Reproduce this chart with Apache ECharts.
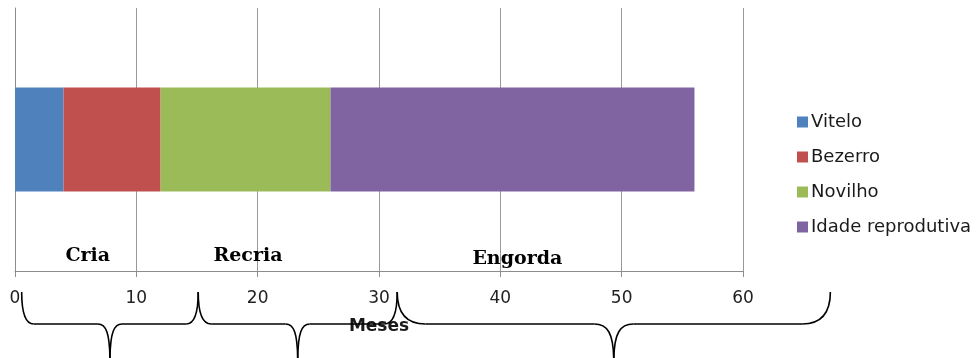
<!DOCTYPE html>
<html>
<head>
<meta charset="utf-8">
<script src="https://cdn.jsdelivr.net/npm/echarts@6/dist/echarts.min.js"></script>
<style>
  html, body { margin: 0; padding: 0; background: #ffffff; }
  #chart { width: 979px; height: 358px; }
</style>
</head>
<body>
<div id="chart"></div>
<script>
// Life stages of cattle, in months (stacked horizontal bar)
const categories = [''];
const seriesNames = ['Vitelo', 'Bezerro', 'Novilho', 'Idade reprodutiva'];
const vitelo = [4];
const bezerro = [8];
const novilho = [14];
const idadeReprodutiva = [30];
const xTicks = [0, 10, 20, 30, 40, 50, 60];

// Phase annotations under the bar
const phases = ['Cria', 'Recria', 'Engorda'];
const phaseLabelMonth = [6, 19.2, 41.4];
const phaseSpans = [[0.55, 15.1], [15.1, 31.5], [31.5, 67.2]];

const colors = ['#4F81BD', '#C0504D', '#9BBB59', '#8064A2'];
const seriesValues = [vitelo, bezerro, novilho, idadeReprodutiva];

const chart = echarts.init(document.getElementById('chart'), null, { renderer: 'canvas' });

const option = {
  animation: false,
  color: colors,
  grid: { left: 15, right: 236, top: 8, bottom: 87, containLabel: false },
  legend: {
    orient: 'vertical',
    left: 792,
    top: 108,
    itemWidth: 11,
    itemHeight: 11,
    itemGap: 17,
    icon: 'rect',
    textStyle: { fontFamily: 'DejaVu Sans', fontSize: 18, color: '#1a1a1a', lineHeight: 18, padding: [0, 0, 0, -2] },
    data: seriesNames
  },
  xAxis: {
    type: 'value',
    min: xTicks[0],
    max: xTicks[xTicks.length - 1],
    interval: 10,
    name: 'Meses',
    nameLocation: 'middle',
    nameGap: 47,
    nameTextStyle: { fontFamily: 'DejaVu Sans', fontWeight: 'bold', fontSize: 17, color: '#1a1a1a' },
    axisLine: { show: true, lineStyle: { color: '#8c8c8c', width: 1 } },
    axisTick: { show: true, length: 6, lineStyle: { color: '#8c8c8c' } },
    axisLabel: { margin: 19, fontFamily: 'DejaVu Sans', fontSize: 17, color: '#222' },
    splitLine: { show: true, lineStyle: { color: '#999999', width: 1 } }
  },
  yAxis: {
    type: 'category',
    data: categories,
    axisLine: { show: true, lineStyle: { color: '#8c8c8c' } },
    axisTick: { show: false },
    axisLabel: { show: false },
    splitLine: { show: false }
  },
  series: seriesNames.map((name, i) => ({
    name: name,
    type: 'bar',
    stack: 'idade',
    barWidth: 104,
    data: seriesValues[i],
    itemStyle: { color: colors[i] }
  }))
};

chart.setOption(option);

const braceStyle = { fill: null, stroke: '#000', lineWidth: 1.6 };

// Curly brace between two pixel x positions, built from curves and straight runs
function braceParts(xL, xR, yTop, yMid, yTip) {
  const w = xR - xL;
  const xc = (xL + xR) / 2;
  const endW = Math.max(12, 0.065 * w);
  const midW = Math.max(12, 0.045 * w);
  const curve = (x1, y1, c1x, c1y, c2x, c2y, x2, y2) => ({
    type: 'bezierCurve',
    shape: { x1: x1, y1: y1, cpx1: c1x, cpy1: c1y, cpx2: c2x, cpy2: c2y, x2: x2, y2: y2 },
    style: braceStyle,
    z: 100
  });
  const line = (x1, x2) => ({
    type: 'line',
    shape: { x1: x1, y1: yMid, x2: x2, y2: yMid },
    style: braceStyle,
    z: 100
  });
  return [
    curve(xL, yTop, xL, yMid - 12, xL + endW * 0.3, yMid, xL + endW, yMid),
    line(xL + endW, xc - midW),
    curve(xc - midW, yMid, xc - midW * 0.35, yMid, xc, yMid + 8, xc, yTip),
    curve(xc + midW, yMid, xc + midW * 0.35, yMid, xc, yMid + 8, xc, yTip),
    line(xc + midW, xR - endW),
    curve(xR - endW, yMid, xR - endW * 0.3, yMid, xR, yMid - 12, xR, yTop)
  ];
}

const px = v => chart.convertToPixel({ xAxisIndex: 0 }, v);

const graphics = [];
phases.forEach((label, i) => {
  graphics.push({
    type: 'text',
    x: px(phaseLabelMonth[i]),
    y: i === 2 ? 259 : 256,
    style: {
      text: label,
      font: 'bold 19px "DejaVu Serif"',
      fill: '#000',
      align: 'center',
      verticalAlign: 'middle'
    },
    z: 100
  });
  const span = phaseSpans[i];
  braceParts(px(span[0]), px(span[1]), 292, 324, 362).forEach(p => graphics.push(p));
});

chart.setOption({ graphic: graphics });
</script>
</body>
</html>
